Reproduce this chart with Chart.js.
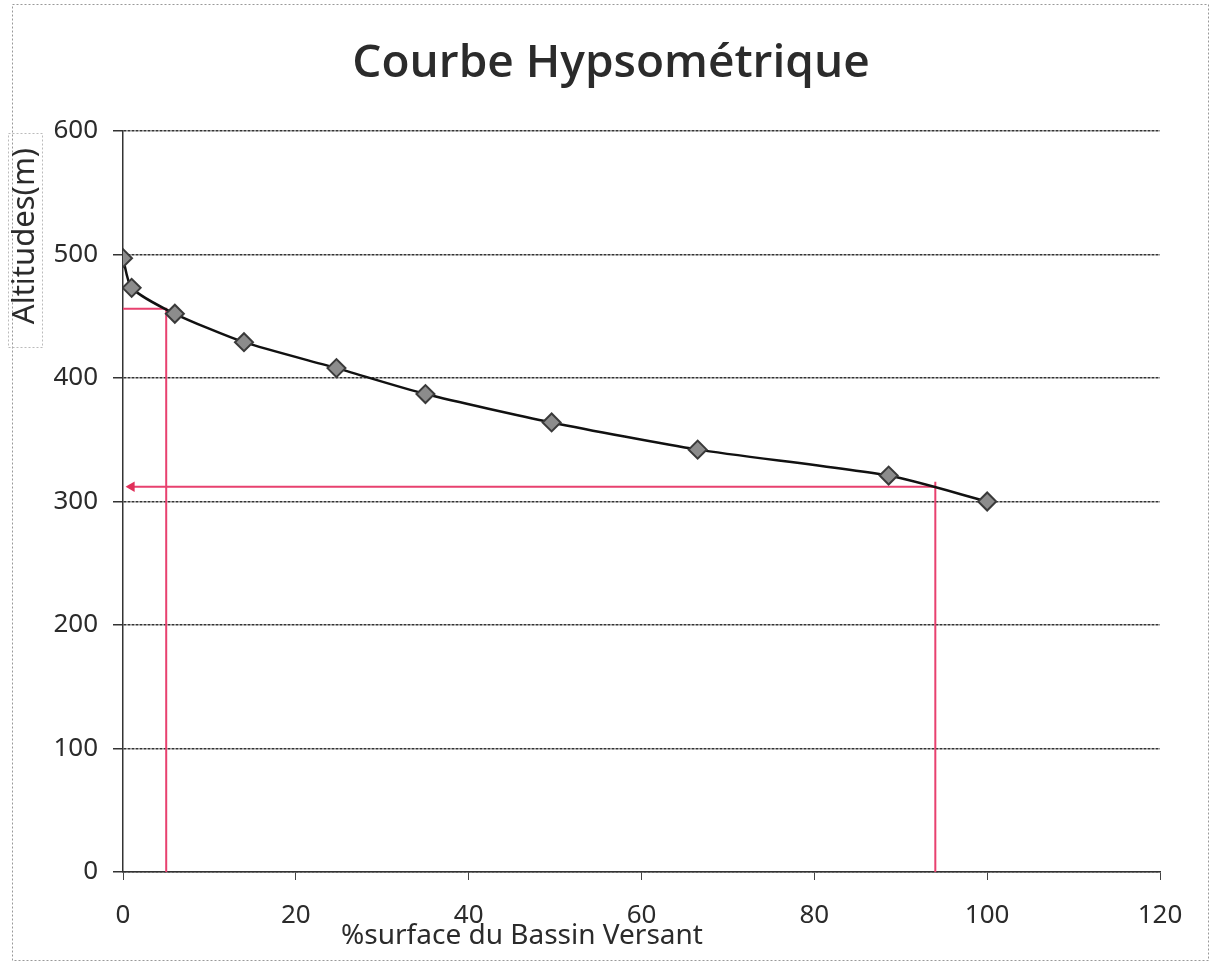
<!DOCTYPE html>
<html lang="fr">
<head>
    <meta charset="UTF-8">
    <title>Courbe Hypsométrique</title>
    <script src="https://cdn.jsdelivr.net/npm/chart.js"></script>
    <style>
        html, body { margin: 0; padding: 0; background: #fff; }
        #chart { display: block; }
    </style>
</head>
<body>
    <canvas id="chart" width="1212" height="965"></canvas>

    <script>
        // données
        const surfacePct = [0, 1, 6, 14, 24.7, 35, 49.6, 66.5, 88.6, 100];
        const altitudes = [497, 473, 452, 429, 408, 387, 364, 342, 321, 300];

        // traits rouges (lecture graphique)
        const guide1X = [5, 5, -0.6];
        const guide1Y = [0, 456, 456];
        const guide2X = [94, 94, 94, 1];
        const guide2Y = [0, 316, 312, 312];

        const xTicks = [0, 20, 40, 60, 80, 100, 120];
        const yTicks = [0, 100, 200, 300, 400, 500, 600];

        const chartTitle = 'Courbe Hypsométrique';
        const xTitle = '%surface du Bassin Versant';
        const yTitle = 'Altitudes(m)';

        const toPoints = (xs, ys) => xs.map((x, i) => ({ x: x, y: ys[i] }));

        // titre, titres d'axes et cadre dessinés à la main
        const decor = {
            id: 'decor',
            beforeDraw(chart) {
                const ctx = chart.ctx;
                ctx.save();
                ctx.fillStyle = '#fff';
                ctx.fillRect(0, 0, chart.width, chart.height);
                ctx.strokeStyle = '#999';
                ctx.setLineDash([2, 2]);
                ctx.lineWidth = 1;
                ctx.strokeRect(12.5, 4.5, 1196, 956);
                // cadre du titre vertical
                ctx.strokeStyle = '#bbb';
                ctx.strokeRect(8.5, 133.5, 34, 214);
                ctx.restore();
            },
            afterDraw(chart) {
                const ctx = chart.ctx;
                ctx.save();
                ctx.fillStyle = '#2b2b2b';
                ctx.textAlign = 'center';
                ctx.textBaseline = 'middle';
                ctx.font = '600 46px "Open Sans", "Noto Sans", sans-serif';
                ctx.fillText(chartTitle, 611, 64);

                ctx.font = '28px "Noto Sans", sans-serif';
                ctx.fillText(xTitle, 522, 936);

                ctx.translate(25, 236);
                ctx.rotate(-Math.PI / 2);
                ctx.font = '31px "Noto Sans", sans-serif';
                ctx.fillText(yTitle, 0, 0);
                ctx.restore();
            }
        };

        new Chart(document.getElementById('chart'), {
            type: 'scatter',
            data: {
                datasets: [
                    {
                        label: 'guide1',
                        data: toPoints(guide1X, guide1Y),
                        showLine: true,
                        borderColor: '#e8416f',
                        borderWidth: 2,
                        pointRadius: 0,
                        order: 3
                    },
                    {
                        label: 'guide2',
                        data: toPoints(guide2X, guide2Y),
                        showLine: true,
                        borderColor: '#e8416f',
                        borderWidth: 2,
                        pointRadius: [0, 0, 0, 4],
                        pointStyle: 'triangle',
                        rotation: 270,
                        pointBackgroundColor: '#e0305a',
                        pointBorderColor: '#e0305a',
                        order: 2
                    },
                    {
                        label: 'altitudes',
                        data: toPoints(surfacePct, altitudes),
                        showLine: true,
                        tension: 0.22,
                        borderColor: '#111',
                        borderWidth: 2.5,
                        pointStyle: 'rectRot',
                        pointRadius: 9,
                        pointBackgroundColor: '#8c8c8c',
                        pointBorderColor: '#3a3a3a',
                        pointBorderWidth: 2,
                        order: 1
                    }
                ]
            },
            options: {
                responsive: false,
                animation: false,
                layout: { padding: { left: 0, right: 52, top: 131, bottom: 0 } },
                plugins: {
                    legend: { display: false },
                    tooltip: { enabled: false }
                },
                scales: {
                    x: {
                        type: 'linear',
                        min: 0,
                        max: 120,
                        afterBuildTicks: (axis) => { axis.ticks = xTicks.map(v => ({ value: v })); },
                        afterFit: (axis) => { axis.height = 93; },
                        grid: {
                            drawOnChartArea: false,
                            drawTicks: true,
                            tickLength: 8,
                            color: '#444'
                        },
                        border: { display: true, color: '#333', width: 1.5 },
                        ticks: {
                            padding: 20,
                            color: '#2b2b2b',
                            font: { size: 26, family: '"Noto Sans", sans-serif' }
                        }
                    },
                    y: {
                        min: 0,
                        max: 600,
                        afterBuildTicks: (axis) => { axis.ticks = yTicks.map(v => ({ value: v })); },
                        afterFit: (axis) => { axis.width = 123; },
                        grid: {
                            drawTicks: true,
                            tickLength: 10,
                            color: '#333',
                            lineWidth: 1.5
                        },
                        border: { display: true, color: '#333', width: 1.5, dash: [3, 1] },
                        ticks: {
                            padding: 15,
                            color: '#2b2b2b',
                            font: { size: 26, family: '"Noto Sans", sans-serif' }
                        }
                    }
                }
            },
            plugins: [decor]
        });
    </script>
</body>
</html>
